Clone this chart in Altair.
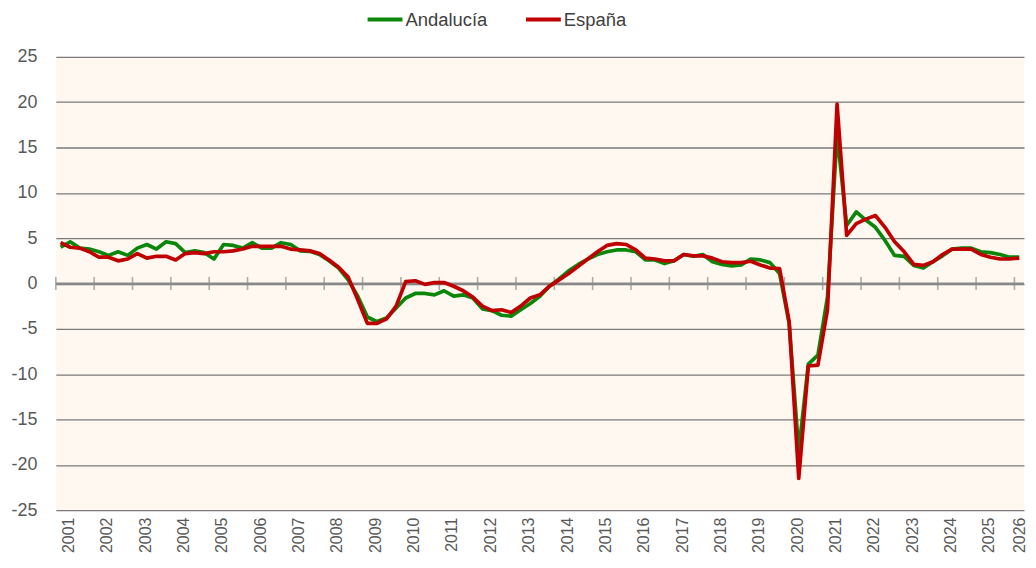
import altair as alt
import pandas as pd

years = list(range(2001, 2027))
series_names = ["Andalucía", "España"]
series_colors = ["#0A870A", "#C00000"]

andalucia = [
    4.0, 4.6, 3.9, 3.8, 3.5, 3.1, 3.5, 3.1, 3.9, 4.3, 3.8, 4.6, 4.4, 3.4, 3.6, 3.4,
    2.7, 4.3, 4.2, 3.9, 4.5, 3.9, 3.9, 4.5, 4.3, 3.6, 3.55, 3.2, 2.5, 1.7, 0.4, -1.4,
    -3.7, -4.2, -3.8, -2.7, -1.6, -1.1, -1.1, -1.25, -0.8, -1.4, -1.25, -1.6, -2.8, -3.0, -3.5, -3.6,
    -2.9, -2.2, -1.4, -0.3, 0.5, 1.4, 2.1, 2.7, 3.2, 3.5, 3.7, 3.7, 3.5, 2.6, 2.6, 2.2,
    2.5, 3.2, 3.0, 3.2, 2.4, 2.1, 1.95, 2.05, 2.7, 2.6, 2.3, 1.1, -4.4, -18.5, -8.9, -7.9,
    -1.5, 16.5, 6.4, 7.9, 7.0, 6.2, 4.75, 3.1, 3.0, 2.0, 1.7, 2.4, 3.05, 3.8, 3.9, 3.9,
    3.5, 3.4, 3.2, 2.9, 2.9,
]
espana = [
    4.5, 4.0, 3.9, 3.5, 2.9, 2.9, 2.5, 2.7, 3.3, 2.8, 3.0, 3.0, 2.6, 3.3, 3.4, 3.3,
    3.5, 3.5, 3.6, 3.8, 4.1, 4.1, 4.1, 4.1, 3.8, 3.7, 3.6, 3.3, 2.6, 1.8, 0.7, -1.8,
    -4.4, -4.4, -3.9, -2.5, 0.2, 0.3, -0.1, 0.1, 0.1, -0.3, -0.8, -1.5, -2.5, -3.0, -2.9, -3.2,
    -2.5, -1.6, -1.25, -0.3, 0.4, 1.1, 1.9, 2.7, 3.5, 4.2, 4.4, 4.3, 3.7, 2.8, 2.7, 2.5,
    2.5, 3.2, 3.05, 3.05, 2.8, 2.4, 2.3, 2.3, 2.45, 2.05, 1.7, 1.65, -4.2, -21.5, -9.1, -9.0,
    -2.9, 19.8, 5.3, 6.6, 7.1, 7.5, 6.2, 4.6, 3.5, 2.1, 2.0, 2.4, 3.2, 3.8, 3.8, 3.8,
    3.2, 2.9, 2.7, 2.7, 2.8,
]
y_ticks = list(range(-25, 30, 5))

n = len(andalucia)
rows = []
for name, vals in zip(series_names, [andalucia, espana]):
    for i, v in enumerate(vals):
        rows.append({"t": i, "serie": name, "v": v})
df = pd.DataFrame(rows)

year_starts = [4 * k for k in range(len(years))]
tick_df = pd.DataFrame({"t": [s - 0.5 for s in year_starts]})
zero_df = pd.DataFrame({"v": [0]})

FONT = "Liberation Sans"
LABEL_COLOR = "#595959"

xscale = alt.Scale(domain=[-0.5, n - 0.5], nice=False, zero=False)
yscale = alt.Scale(domain=[-25, 25], nice=False, zero=False)

xaxis = alt.Axis(values=year_starts, labelExpr=f"'' + ({years[0]} + datum.value / 4)",
                 title=None, grid=False, domain=False, ticks=False,
                 labelAngle=270, labelAlign="right", labelBaseline="top",
                 labelPadding=7, labelFontSize=16, labelFont=FONT,
                 labelColor=LABEL_COLOR, labelFlush=False,
                 labelOffset=alt.condition(f"datum.value == {year_starts[-1]}",
                                           alt.value(-8), alt.value(0)),
                 labelOverlap=False, labelBound=False)
yaxis = alt.Axis(values=y_ticks, title=None, grid=True, gridColor="#7a7a7a",
                 gridWidth=1.3, domain=False, ticks=False, labelPadding=19,
                 labelExpr="'' + datum.value",
                 labelFontSize=18, labelFont=FONT, labelColor=LABEL_COLOR)

lines = alt.Chart(df).mark_line(strokeWidth=3.7, strokeJoin="round").encode(
    x=alt.X("t:Q", scale=xscale, axis=xaxis),
    y=alt.Y("v:Q", scale=yscale, axis=yaxis),
    color=alt.Color("serie:N", sort=series_names,
                    scale=alt.Scale(domain=series_names, range=series_colors),
                    legend=alt.Legend(title=None, orient="none", legendX=311, legendY=-57,
                                      offset=0,
                                      direction="horizontal", symbolType="stroke",
                                      symbolSize=1225, symbolStrokeWidth=4,
                                      labelFontSize=18.5, labelFont=FONT,
                                      labelColor="#404040", labelOffset=1,
                                      columnPadding=30, padding=0)),
    order=alt.Order("serie:N"),
)

zero_line = alt.Chart(zero_df).mark_rule(color="#8c8c8c", strokeWidth=1.8).encode(
    y=alt.Y("v:Q", scale=yscale, axis=yaxis)
)

ticks = alt.Chart(tick_df).mark_tick(orient="vertical", size=13, thickness=1.6,
                                      color="#8c8c8c").encode(
    x=alt.X("t:Q", scale=xscale, axis=xaxis),
    y=alt.Y(datum=0, scale=yscale, axis=yaxis),
)

chart = alt.layer(zero_line, ticks, lines).properties(
    width=972, height=455,
    autosize=alt.AutoSizeParams(type="none"),
    padding={"left": 48, "top": 48, "right": 4, "bottom": 43},
    background="white",
).configure_view(stroke=None, fill="#FEF8F0").configure_axisX(labelOverlap=False)

chart.save("out.html", embed_options={"renderer": "svg", "actions": False})
